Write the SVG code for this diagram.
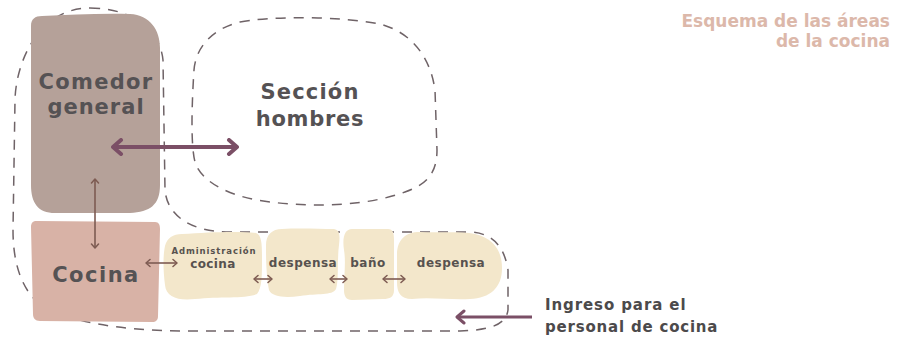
<svg xmlns="http://www.w3.org/2000/svg" width="897" height="338" viewBox="0 0 897 338">
<style>
.dash{fill:none;stroke:#6f6367;stroke-width:1.5;stroke-dasharray:10 8;}
.big{font-family:"DejaVu Sans","Open Sans",sans-serif;font-weight:700;font-size:21px;fill:#555254;letter-spacing:1.2px;text-anchor:middle;}
.sm{font-family:"DejaVu Sans","Open Sans",sans-serif;font-weight:700;font-size:12px;fill:#57524f;letter-spacing:0.5px;text-anchor:middle;}
.title{font-family:"DejaVu Sans","Open Sans",sans-serif;font-weight:700;font-size:17px;fill:#dcb8aa;text-anchor:end;}
.note{font-family:"DejaVu Sans","Open Sans",sans-serif;font-weight:700;font-size:15px;fill:#4c4a4b;letter-spacing:0.9px;}
.pantry{fill:#f3e7cb;}
.brown{stroke:#7d5b52;stroke-width:1.6;fill:none;}
.purple{stroke:#7b4f66;fill:none;}
</style>
<defs>
<marker id="chevBig" viewBox="-11 -9 13 18" refX="0" refY="0" markerWidth="13" markerHeight="18" markerUnits="userSpaceOnUse" orient="auto-start-reverse">
<path d="M-8,-7 L0,0 L-8,7" fill="none" stroke="#7b4f66" stroke-width="4" stroke-linecap="round" stroke-linejoin="round"/>
</marker>
<marker id="chevMid" viewBox="-10 -8 12 16" refX="0" refY="0" markerWidth="12" markerHeight="16" markerUnits="userSpaceOnUse" orient="auto-start-reverse">
<path d="M-7,-6 L0,0 L-7,6" fill="none" stroke="#7b4f66" stroke-width="3" stroke-linecap="round" stroke-linejoin="round"/>
</marker>
<marker id="chevSm" viewBox="-6 -5 7 10" refX="0" refY="0" markerWidth="7" markerHeight="10" markerUnits="userSpaceOnUse" orient="auto-start-reverse">
<path d="M-4,-3.5 L0,0 L-4,3.5" fill="none" stroke="#7d5b52" stroke-width="1.5" stroke-linecap="round" stroke-linejoin="round"/>
</marker>
</defs>

<g id="boundary-kitchen">
<path class="dash" d="M 90,8 C 132,8 160,30 163,60 L 165,190 C 167,215 190,232 230,232 L 470,232 C 495,233 505,250 508,270 L 508,310 C 506,325 490,330 460,331 L 180,331 C 120,330 60,322 35,300 C 16,280 13,250 13,230 L 15,100 C 16,60 40,8 90,8 Z"/>
</g>

<g id="seccion-hombres">
<path class="dash" d="M 240,22 C 270,16 340,16 380,24 C 410,32 430,55 435,90 L 437,150 C 437,175 425,185 405,192 C 370,205 320,208 270,202 C 235,198 205,185 196,165 C 190,150 192,100 194,70 C 196,45 215,28 240,22 Z"/>
<text class="big" x="310" y="99">Sección</text>
<text class="big" x="310" y="126" style="letter-spacing:0.7px">hombres</text>
</g>

<g id="comedor-general">
<path fill="#b5a199" d="M 42,16 C 70,15 100,13 130,14 C 150,15 160,30 160,48 L 160,185 C 160,205 150,212 130,213 L 55,213 C 38,213 31,203 31,185 L 31,26 C 31,19 35,16 42,16 Z"/>
<text class="big" x="96" y="89" style="letter-spacing:1.3px">Comedor</text>
<text class="big" x="96" y="114" style="letter-spacing:1px">general</text>
</g>

<g id="cocina">
<path fill="#d8b2a6" d="M 36,221 L 155,222 C 159,222 160,225 160,229 L 158,316 C 158,320 156,322 152,322 L 40,321 C 35,321 33,318 33,314 L 31,227 C 31,223 33,221 36,221 Z"/>
<text class="big" x="96" y="282" style="letter-spacing:1.5px">Cocina</text>
</g>

<g id="administracion-cocina">
<path class="pantry" d="M 182,234 C 210,232 240,231 256,233 C 262,235 262,245 262,260 C 262,275 262,288 257,294 C 245,299 220,296 195,299 C 178,301 166,297 165,285 C 163,270 163,255 165,246 C 167,238 173,234 182,234 Z"/>
<text class="sm" x="214" y="254" style="font-size:8.5px;letter-spacing:0.9px">Administración</text>
<text class="sm" x="213" y="268" style="letter-spacing:0.4px">cocina</text>
</g>

<g id="despensa-1">
<path class="pantry" d="M 282,229 C 300,228 320,229 334,229 C 340,230 340,236 339,245 C 337,260 339,280 336,289 C 332,296 318,293 300,296 C 285,298 272,297 269,290 C 266,275 266,255 266,245 C 266,235 272,229 282,229 Z"/>
<text class="sm" x="303" y="267">despensa</text>
</g>

<g id="bano">
<path class="pantry" d="M 352,229 L 388,229 C 393,229 394,233 394,240 L 394,290 C 394,297 390,299 383,299 L 352,300 C 346,300 344,296 344,290 C 344,275 346,262 344,250 C 342,237 345,229 352,229 Z"/>
<text class="sm" x="368" y="267">baño</text>
</g>

<g id="despensa-2">
<path class="pantry" d="M 420,232 C 440,233 460,231 475,234 C 495,239 502,252 502,268 C 502,288 490,298 470,299 C 450,300 430,297 412,299 C 400,299 397,292 397,282 L 397,255 C 397,240 405,232 420,232 Z"/>
<text class="sm" x="451" y="267">despensa</text>
</g>

<g id="title">
<text class="title" x="890" y="27">Esquema de las áreas</text>
<text class="title" x="890" y="47">de la cocina</text>
</g>

<g id="ingreso-label">
<text class="note" x="545" y="310">Ingreso para el</text>
<text class="note" x="545" y="332" style="letter-spacing:0.8px">personal de cocina</text>
</g>

<g id="connectors">
<line class="purple" x1="113" y1="147" x2="237" y2="147" stroke-width="4" marker-start="url(#chevBig)" marker-end="url(#chevBig)"/>
<line class="brown" x1="95" y1="179" x2="95" y2="248" marker-start="url(#chevSm)" marker-end="url(#chevSm)"/>
<line class="brown" x1="146" y1="263" x2="177" y2="263" marker-start="url(#chevSm)" marker-end="url(#chevSm)"/>
<line class="brown" x1="254" y1="279" x2="272" y2="279" stroke-width="1.2" marker-start="url(#chevSm)" marker-end="url(#chevSm)"/>
<line class="brown" x1="330" y1="279" x2="347" y2="279" stroke-width="1.2" marker-start="url(#chevSm)" marker-end="url(#chevSm)"/>
<line class="brown" x1="383" y1="279" x2="405" y2="279" stroke-width="1.2" marker-start="url(#chevSm)" marker-end="url(#chevSm)"/>
<line class="purple" x1="532" y1="317" x2="457" y2="317" stroke-width="3" marker-end="url(#chevMid)"/>
</g>
</svg>
